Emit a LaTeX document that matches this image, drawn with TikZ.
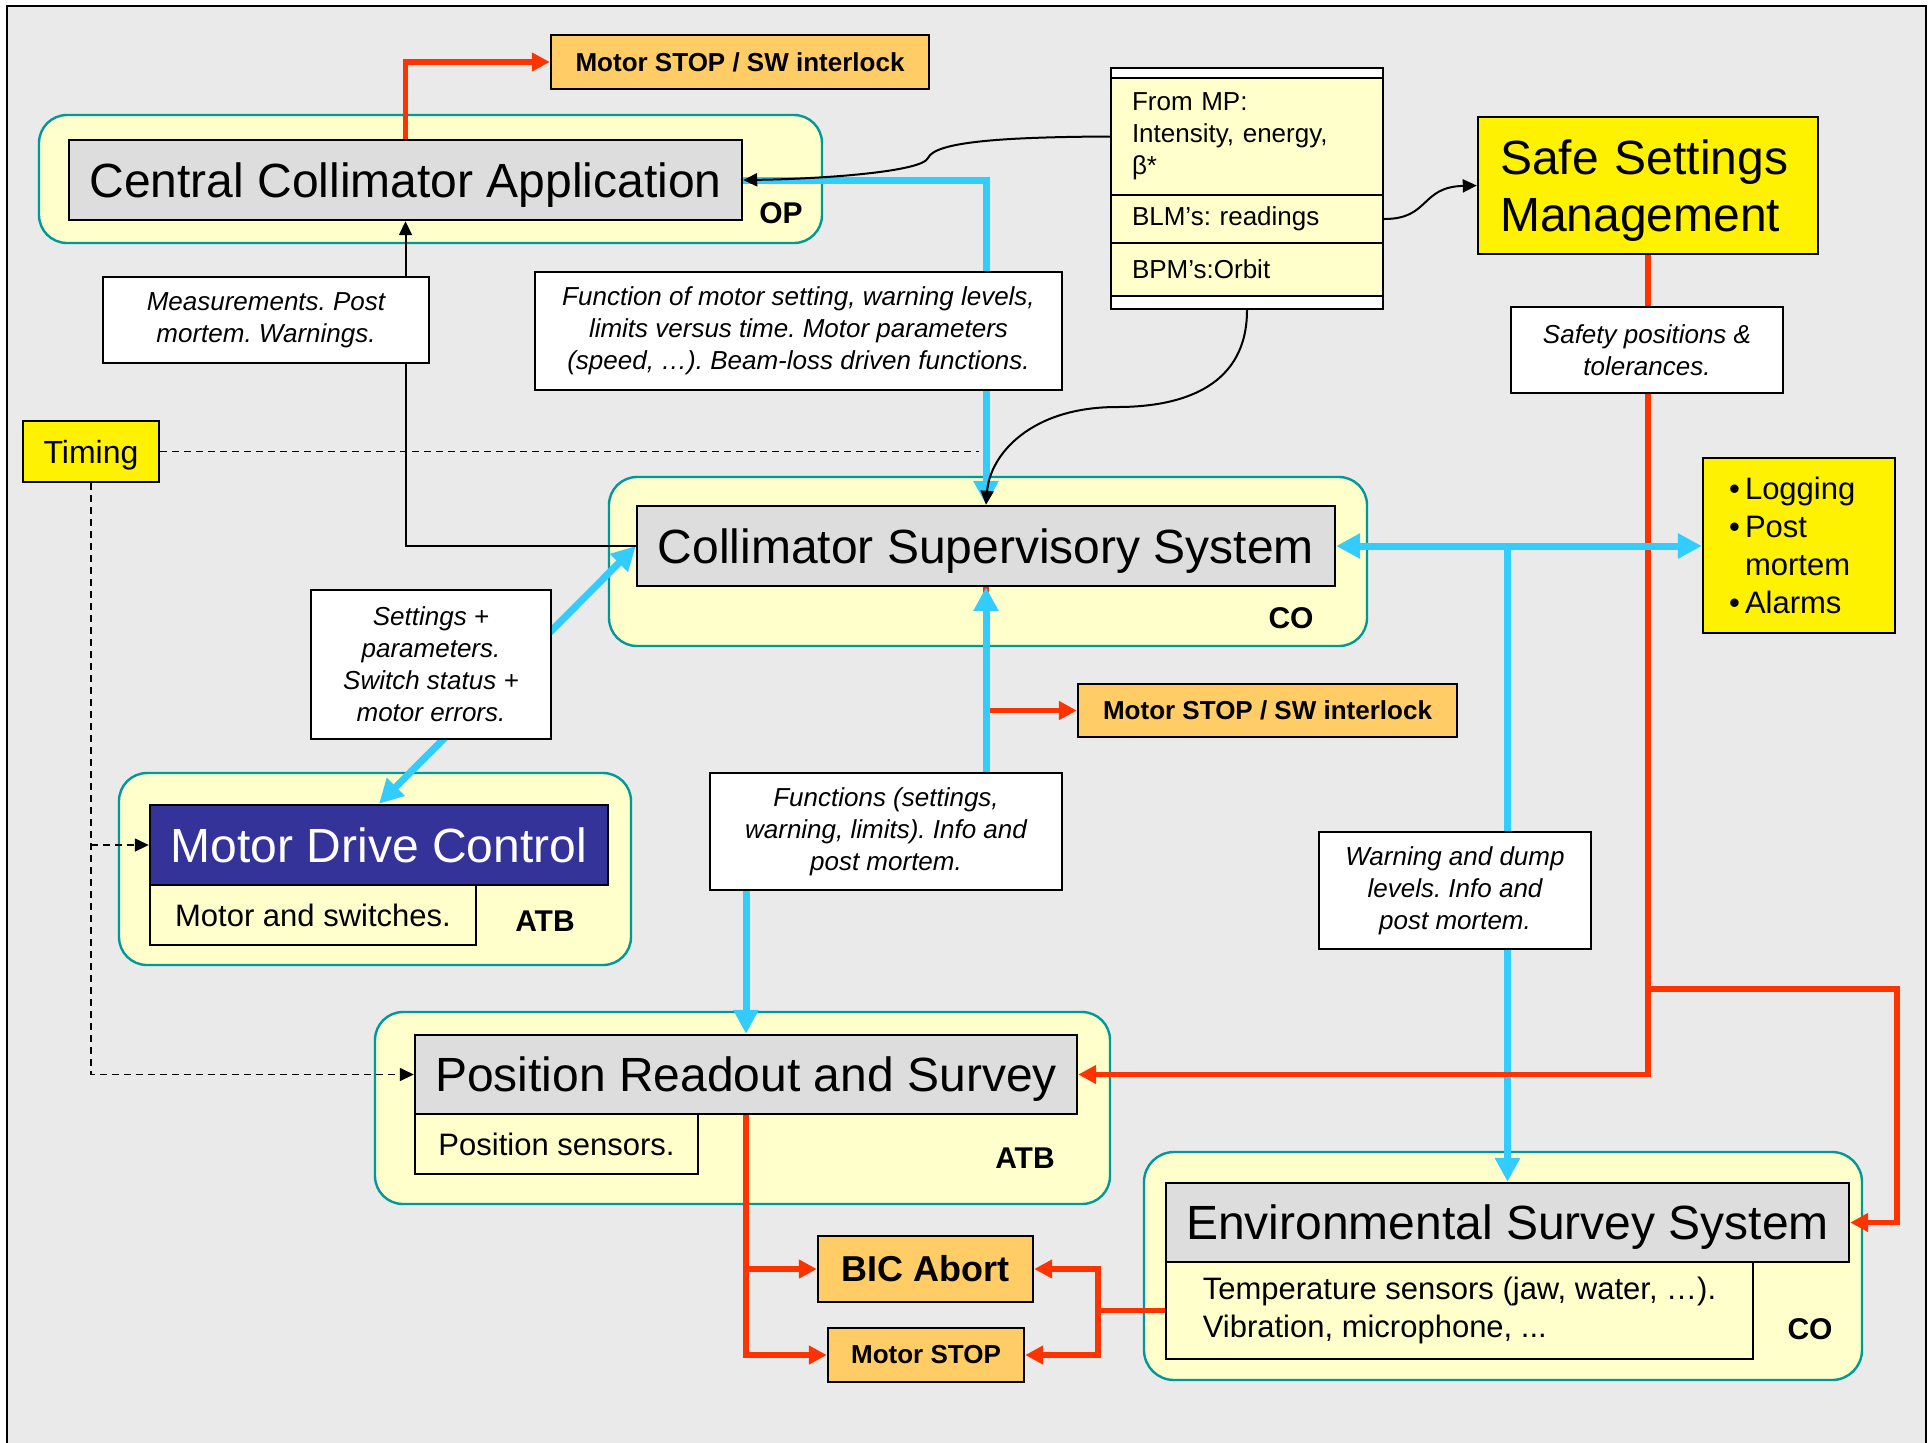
\documentclass[tikz,border=0pt]{standalone}
\usepackage{fontspec}
\setmainfont{Liberation Sans}
\usetikzlibrary{arrows.meta}
\pgfdeclarelayer{bottom}
\pgfdeclarelayer{back}
\pgfdeclarelayer{lines}
\pgfsetlayers{bottom,back,lines,main}
\definecolor{bgc}{HTML}{EAEAEA}
\definecolor{lyel}{HTML}{FFFFCC}
\definecolor{tealc}{HTML}{009999}
\definecolor{grayb}{HTML}{DDDDDD}
\definecolor{orng}{HTML}{FFCC66}
\definecolor{bluel}{HTML}{33CCFF}
\definecolor{redl}{HTML}{FF3300}
\definecolor{navyb}{HTML}{333399}
\newcommand\FBig{\fontsize{24}{28.5}\selectfont}
\newcommand\FItal{\fontsize{13}{16}\selectfont\itshape}
\newcommand\FStop{\fontsize{13}{16}\selectfont\bfseries}
\newcommand\FTag{\fontsize{15}{18}\selectfont\bfseries}
\newcommand\FSub{\fontsize{15.5}{19}\selectfont}
\newcommand\FTab{\fontsize{13}{16}\selectfont}
\newcommand\FBic{\fontsize{18}{21}\selectfont\bfseries}
\newcommand\FTim{\fontsize{16}{19}\selectfont}
\newcommand\FLog{\fontsize{15.5}{19}\selectfont}
\frenchspacing
\begin{document}
\begin{tikzpicture}[x=0.5pt,y=-0.5pt,
  outerbox/.style={draw=tealc, fill=lyel, line width=1.2pt, rounded corners=14pt, inner sep=0pt},
  titlebox/.style={draw=black, fill=grayb, line width=1.2pt, inner sep=0pt, font=\FBig, text depth=0pt},
  lblbox/.style={draw=black, fill=white, line width=1.2pt, inner sep=0pt, align=center, font=\FItal},
  stopbox/.style={draw=black, fill=orng, line width=1.2pt, inner sep=0pt, font=\FStop},
  ylwbox/.style={draw=black, fill=yellow, line width=1.2pt, inner sep=0pt},
  subbox/.style={draw=black, fill=lyel, line width=1.2pt, inner sep=0pt, font=\FSub},
  tabbox/.style={draw=black, fill=lyel, line width=1.2pt, inner ysep=0pt, inner xsep=10.5pt, text width=115pt, align=left, font=\FTab, minimum width=136pt},
  strip/.style={draw=black, fill=white, line width=1.2pt, inner sep=0pt, minimum width=136pt},
  tagtext/.style={font=\FTag, inner sep=0pt},
  blueln/.style={draw=bluel, line width=3.5pt},
  bluearr/.style={blueln, -{Triangle[length=12pt,width=12pt]}},
  bluedbl/.style={blueln, {Triangle[length=12pt,width=12pt]}-{Triangle[length=12pt,width=12pt]}},
  redln/.style={draw=redl, line width=2.75pt},
  redarr/.style={redln, -{Triangle[length=9pt,width=9pt]}},
  blkarr/.style={draw=black, line width=1pt, -{Triangle[length=7pt,width=6.5pt]}},
  blkln/.style={draw=black, line width=1pt},
  dsh/.style={draw=black, line width=0.8pt, dash pattern=on 3.5pt off 2.5pt},
  dsharr/.style={dsh, -{Triangle[length=7pt,width=6.5pt]}}
]
\clip (0,0) rectangle (1928,1442);
\begin{pgfonlayer}{bottom}
  \fill[white] (0,0) rectangle (1928,1442);
  \draw[fill=bgc, line width=0.8pt] (7,6) rectangle (1926,1470);
\end{pgfonlayer}

% outer group boxes
\begin{pgfonlayer}{back}
  \node[outerbox, minimum width=391.5pt, minimum height=64pt] (ccaOuter) at (430.5,179) {};
  \node[outerbox, minimum width=379pt, minimum height=84.5pt] (cssOuter) at (988,561.5) {};
  \node[outerbox, minimum width=256pt, minimum height=96pt] (mdcOuter) at (375,869) {};
  \node[outerbox, minimum width=367.5pt, minimum height=96pt] (prsOuter) at (742.5,1108) {};
  \node[outerbox, minimum width=359pt, minimum height=114pt, rounded corners=15pt] (essOuter) at (1503,1266) {};
\end{pgfonlayer}

% main boxes
\node[titlebox, minimum width=336.5pt, minimum height=40pt] (cca) at (405.5,180) {Central Collimator Application};
\node[tagtext] (tagOP) at (781,213) {OP};
\node[stopbox, minimum width=189pt, minimum height=27pt] (stop1) at (740,62) {Motor STOP / SW interlock};
\node[lblbox, minimum width=163pt, minimum height=43pt] (meas) at (266,320) {Measurements. Post\\mortem. Warnings.};
\node[ylwbox, minimum width=68pt, minimum height=30.5pt, font=\FTim, text depth=0pt] (timing) at (91,451.5) {Timing};
\node[lblbox, minimum width=263.5pt, minimum height=59pt] (func1) at (798.5,331) {Function of motor setting, warning levels,\\limits versus time. Motor parameters\\(speed, …). Beam-loss driven functions.};

\node[strip, minimum height=5pt] (tabTop) at (1247,73) {};
\node[tabbox, minimum height=58.5pt] (row1) at (1247,136.5) {From MP:\\Intensity, energy,\\β*};
\node[tabbox, minimum height=24pt] (row2) at (1247,219) {BLM’s: readings};
\node[tabbox, minimum height=26.5pt] (row3) at (1247,269.5) {BPM’s:Orbit};
\node[strip, minimum height=6.5pt] (tabBot) at (1247,302.5) {};

\node[ylwbox, minimum width=170pt, minimum height=68.5pt, inner xsep=11pt, text width=148pt, align=left, font=\FBig] (ssm) at (1648,185.5) {\rule{0pt}{22.5pt}Safe Settings\\Management};
\node[lblbox, minimum width=136pt, minimum height=43pt] (safety) at (1647,350) {Safety positions \&\\tolerances.};
\node[ylwbox, minimum width=96pt, minimum height=87.5pt, inner xsep=13pt, text width=70pt, align=left, font=\FLog] (log) at (1799,545.5) {\makebox[8pt][l]{•}Logging\\\makebox[8pt][l]{•}Post\\\hspace*{8pt}mortem\\\makebox[8pt][l]{•}Alarms};

\node[titlebox, minimum width=349pt, minimum height=40pt] (css) at (986,546) {Collimator Supervisory System};
\node[tagtext] (tagCOa) at (1291,618) {CO};
\node[stopbox, minimum width=189.5pt, minimum height=26.5pt] (stop2) at (1267.5,710.5) {Motor STOP / SW interlock};
\node[lblbox, minimum width=120pt, minimum height=74.5pt] (settings) at (431,664.5) {Settings +\\parameters.\\Switch status +\\motor errors.};

\node[titlebox, fill=navyb, text=white, minimum width=229pt, minimum height=40pt] (mdc) at (379,845) {Motor Drive Control};
\node[subbox, minimum width=163pt, minimum height=30pt] (mdcSub) at (313,915) {Motor and switches.};
\node[tagtext] (tagATBa) at (545,921) {ATB};

\node[lblbox, minimum width=176pt, minimum height=58.5pt] (funcs) at (886,831.5) {Functions (settings,\\warning, limits). Info and\\post mortem.};
\node[lblbox, minimum width=136pt, minimum height=58.5pt] (warn) at (1455,890.5) {Warning and dump\\levels. Info and\\post mortem.};

\node[titlebox, minimum width=331pt, minimum height=39.5pt] (prs) at (746,1074.5) {Position Readout and Survey};
\node[subbox, minimum width=141.5pt, minimum height=30pt] (prsSub) at (556.5,1144) {Position sensors.};
\node[tagtext] (tagATBb) at (1025,1158) {ATB};

\node[stopbox, font=\FBic, minimum width=107.5pt, minimum height=33pt] (bic) at (925.5,1269) {BIC Abort};
\node[stopbox, minimum width=98pt, minimum height=27pt] (stop3) at (926,1355) {Motor STOP};

\node[titlebox, minimum width=341.5pt, minimum height=39.5pt] (ess) at (1507.5,1222.5) {Environmental Survey System};
\node[subbox, minimum width=293.5pt, minimum height=48.5pt, align=left] (essSub) at (1459.5,1310.5) {Temperature sensors (jaw, water, …).\\Vibration, microphone, ...};
\node[tagtext] (tagCOb) at (1810,1329) {CO};

% helper coordinates
\coordinate (rr) at (1897,989);
\coordinate (rj) at (1098,1310.5);
\coordinate (dEnd) at (979,451.5);

\begin{pgfonlayer}{lines}
  % blue vertical to ESS (below red)
  \draw[bluearr] (css.east -| ess.north) -- (ess.north);
  % red lines
  \draw[redarr] (ssm.south) |- (prs.east);
  \draw[redarr] (ssm.south |- rr) -- (rr) |- (ess.east);
  \draw[redarr] (css.south) |- (stop2.west);
  \draw[redarr] (cca.north) |- (stop1.west);
  \draw[redarr] (prs.south) |- (stop3.west);
  \draw[redarr] (prs.south |- bic.west) -- (bic.west);
  \draw[redarr] (essSub.west) -- (rj) |- (bic.east);
  \draw[redarr] (rj) |- (stop3.east);
  % blue lines
  \draw[bluedbl] (css.east) -- (css.east -| log.west);
  \draw[bluearr] (cca.east) -| (css.north);
  \draw[bluearr] (css.south |- funcs.north) -- (css.south);
  \draw[bluearr] (prs.north |- funcs.south) -- (prs.north);
  \draw[bluedbl] (mdc.north) -- (css.west);
  % black lines
  \draw[blkarr] (css.west) -| (cca.south);
  \draw[blkarr] (row1.west) .. controls (1000,137) and (935,142) .. (928,158) .. controls (922,172) and (820,179) .. (cca.east);
  \draw[blkarr] (row2.east) .. controls (1430,219) and (1420,187) .. (ssm.west);
  \draw[blkarr] (tabBot.south) .. controls (1247,385) and (1185,407) .. (1117,407) .. controls (1030,407) and (990,455) .. (css.north);
  % timing
  \draw[dsh] (timing.east) -- (dEnd);
  \draw[dsharr] (timing.south) |- (prs.west);
  \draw[dsharr] (timing.south |- mdc.west) -- (mdc.west);
\end{pgfonlayer}
\end{tikzpicture}
\end{document}
